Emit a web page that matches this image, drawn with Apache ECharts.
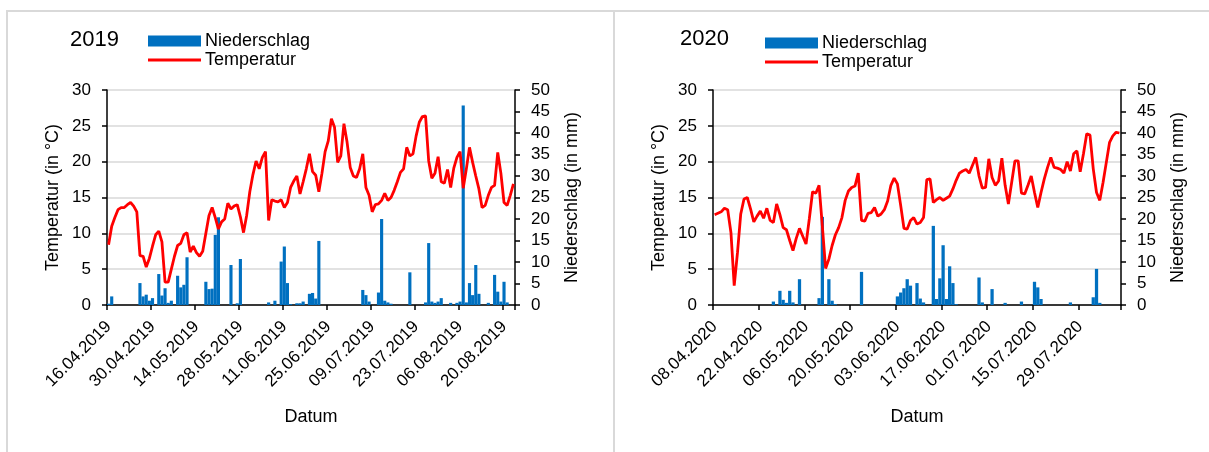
<!DOCTYPE html>
<html>
<head>
<meta charset="utf-8">
<script src="https://cdn.jsdelivr.net/npm/echarts@6/dist/echarts.min.js"></script>
<style>
html,body{margin:0;padding:0;background:#fff;overflow:hidden;width:1209px;height:452px;}
.frame{position:absolute;top:10px;height:520px;border-top:2px solid #d9d9d9;border-left:2px solid #d9d9d9;}
#f1{left:6px;width:700px;}
#f2{left:613px;width:700px;}
#chart{position:absolute;left:0;top:0;width:1209px;height:452px;}
</style>
</head>
<body>
<div class="frame" id="f1"></div>
<div class="frame" id="f2"></div>
<div id="chart"></div>
<script>
// ---- Data ----
const start2019 = [2019, 4, 16];
const days2019 = 130;
const start2020 = [2020, 4, 8];
const days2020 = 125;

const tickLabels2019 = ['16.04.2019','30.04.2019','14.05.2019','28.05.2019','11.06.2019','25.06.2019','09.07.2019','23.07.2019','06.08.2019','20.08.2019'];
const tickLabels2020 = ['08.04.2020','22.04.2020','06.05.2020','20.05.2020','03.06.2020','17.06.2020','01.07.2020','15.07.2020','29.07.2020'];

const temp2019 = [
 8.4, 11.0, 12.2, 13.3, 13.6, 13.6, 14.0, 14.3, 13.8, 13.0,
 6.9, 6.8, 5.3, 6.5, 8.2, 9.8, 10.3, 8.8, 3.2, 3.2,
 5.0, 6.8, 8.3, 8.6, 9.8, 10.1, 7.4, 8.2, 7.3, 6.8,
 7.5, 10.0, 12.5, 13.6, 12.2, 10.6, 11.6, 12.0, 14.2, 13.4,
 13.8, 14.0, 12.3, 10.1, 12.5, 15.8, 18.2, 20.1, 19.0, 20.6,
 21.4, 11.8, 14.7, 14.5, 14.4, 14.7, 13.6, 14.3, 16.4, 17.3,
 18.0, 15.5, 17.2, 19.0, 21.1, 18.6, 18.1, 15.8, 18.4, 21.4,
 22.9, 26.0, 24.8, 19.9, 20.8, 25.3, 22.7, 19.2, 18.0, 17.8,
 19.0, 21.1, 16.4, 15.3, 13.0, 14.0, 14.1, 14.6, 15.6, 14.6,
 15.0, 16.0, 17.2, 18.5, 19.0, 22.0, 20.8, 21.1, 23.6, 25.5,
 26.3, 26.4, 20.1, 17.7, 18.4, 20.7, 17.2, 17.0, 18.9, 16.4,
 19.1, 20.6, 21.4, 16.3, 19.0, 22.0, 19.9, 18.0, 16.2, 13.6,
 13.9, 15.3, 16.4, 16.7, 21.3, 18.4, 14.3, 13.9, 15.3, 16.9
];
const rain2019 = [
 0.3, 2.0, 0, 0, 0, 0, 0, 0, 0, 0,
 5.1, 2.0, 2.4, 1.0, 1.6, 0, 7.2, 2.2, 3.9, 0.5,
 1.0, 0, 6.8, 4.1, 4.7, 11.1, 0, 0, 0, 0,
 0, 5.4, 3.7, 3.8, 16.3, 20.4, 0, 0, 0, 9.3,
 0, 0.4, 10.7, 0, 0, 0, 0, 0, 0, 0,
 0, 0.6, 0, 1.0, 0, 10.1, 13.6, 5.1, 0.2, 0,
 0.4, 0.4, 0.8, 0, 2.6, 2.8, 1.5, 14.9, 0, 0,
 0, 0, 0, 0, 0, 0, 0, 0, 0, 0,
 0, 3.5, 2.3, 0.8, 0, 0, 2.9, 20.0, 1.0, 0.6,
 0.3, 0, 0, 0, 0, 0, 7.6, 0, 0, 0,
 0, 0.6, 14.4, 0.8, 0.5, 0.8, 1.6, 0, 0, 0.5,
 0, 0.5, 0.8, 46.4, 0.6, 5.1, 2.3, 9.3, 2.6, 0,
 0, 0.5, 0, 7.0, 3.1, 0.8, 5.4, 0.6, 0, 0
];
const temp2020 = [
 12.6, 12.8, 13.0, 13.5, 13.3, 10.1, 2.7, 7.3, 12.7, 14.8,
 15.0, 13.4, 11.6, 12.4, 13.1, 12.1, 13.5, 11.8, 11.5, 14.1,
 12.6, 10.8, 10.5, 9.0, 7.6, 9.3, 10.7, 9.6, 8.5, 12.0,
 15.8, 15.6, 16.7, 11.0, 5.1, 6.4, 8.3, 9.8, 10.8, 12.2,
 14.6, 15.9, 16.4, 16.6, 18.4, 11.8, 11.7, 12.8, 12.9, 13.6,
 12.4, 12.7, 13.3, 14.5, 16.7, 17.7, 16.9, 13.9, 10.7, 10.6,
 11.8, 12.2, 11.3, 11.5, 12.2, 17.5, 17.6, 14.3, 14.7, 15.0,
 14.6, 14.9, 15.2, 16.2, 17.4, 18.4, 18.7, 18.9, 18.4, 19.5,
 20.6, 18.0, 16.3, 16.4, 20.4, 17.8, 16.7, 17.3, 20.5, 16.7,
 14.1, 17.1, 20.1, 20.1, 15.6, 15.5, 16.7, 18.0, 15.7, 13.6,
 15.7, 17.6, 19.2, 20.6, 19.2, 19.1, 18.9, 18.4, 20.0, 18.7,
 21.1, 21.5, 18.6, 21.1, 23.9, 23.7, 19.0, 15.7, 14.6, 17.1,
 19.9, 22.7, 23.6, 24.1, 24.0
];
const rain2020 = [
 0, 0, 0, 0, 0, 0, 0, 0, 0, 0,
 0, 0, 0, 0, 0, 0, 0, 0, 0.8, 0,
 3.3, 1.2, 0.5, 3.3, 0.6, 0, 6.0, 0, 0, 0,
 0, 0, 1.6, 20.5, 0, 6.0, 1.0, 0.2, 0, 0,
 0, 0, 0, 0, 0, 7.7, 0, 0, 0, 0,
 0, 0, 0, 0, 0, 0, 2.0, 2.9, 3.9, 6.0,
 4.5, 0, 5.1, 1.5, 0.6, 0, 0, 18.4, 1.4, 6.2,
 13.9, 1.4, 9.0, 5.1, 0.2, 0, 0, 0, 0, 0,
 0, 6.4, 0.6, 0, 0, 3.7, 0, 0, 0, 0.5,
 0, 0, 0, 0, 0.8, 0, 0, 0, 5.4, 4.1,
 1.4, 0, 0, 0, 0, 0, 0, 0, 0, 0.6,
 0, 0, 0, 0, 0, 0, 1.8, 8.4, 0.5, 0,
 0, 0, 0, 0, 0
];

// ---- Helpers ----
function makeDates(s, n) {
  const out = [];
  const t0 = Date.UTC(s[0], s[1] - 1, s[2]);
  for (let i = 0; i < n; i++) {
    const d = new Date(t0 + i * 86400000);
    const dd = String(d.getUTCDate()).padStart(2, '0');
    const mm = String(d.getUTCMonth() + 1).padStart(2, '0');
    out.push(dd + '.' + mm + '.' + d.getUTCFullYear());
  }
  return out;
}
const dates2019 = makeDates(start2019, days2019);
const dates2020 = makeDates(start2020, days2020);

const FONT = "'Liberation Sans', Arial, sans-serif";
const BLACK = '#000';
const GRIDLINE = '#d9d9d9';
const BLUE = '#0070c0';
const RED = '#ff0000';

function xAxis(gridIndex, data, ticks) {
  const show = (i, v) => ticks.indexOf(v) >= 0;
  return {
    type: 'category', gridIndex, data, boundaryGap: true,
    axisLine: { show: true, lineStyle: { color: BLACK, width: 1.5 } },
    axisTick: { show: true, length: 5, interval: show, alignWithLabel: false, lineStyle: { color: BLACK, width: 1.5 } },
    axisLabel: { interval: show, rotate: 45, fontSize: 17, color: BLACK, fontFamily: FONT, margin: 19 },
    splitLine: { show: false },
    name: 'Datum', nameLocation: 'middle', nameGap: 103,
    nameTextStyle: { fontSize: 18, color: BLACK, fontFamily: FONT }
  };
}
function yLeft(gridIndex) {
  return {
    type: 'value', gridIndex, position: 'left', min: 0, max: 30, interval: 5,
    axisLine: { show: true, lineStyle: { color: BLACK, width: 1.5 } },
    axisTick: { show: true, length: 5, lineStyle: { color: BLACK, width: 1.5 } },
    axisLabel: { fontSize: 17, color: BLACK, fontFamily: FONT, margin: 16 },
    splitLine: { show: true, lineStyle: { color: GRIDLINE, width: 1.5 } },
    name: 'Temperatur (in °C)', nameLocation: 'middle', nameGap: 45, nameRotate: 90,
    nameTextStyle: { fontSize: 18, color: BLACK, fontFamily: FONT }
  };
}
function yRight(gridIndex) {
  return {
    type: 'value', gridIndex, position: 'right', min: 0, max: 50, interval: 5,
    axisLine: { show: true, lineStyle: { color: BLACK, width: 1.5 } },
    axisTick: { show: true, length: 5, lineStyle: { color: BLACK, width: 1.5 } },
    axisLabel: { fontSize: 17, color: BLACK, fontFamily: FONT, margin: 16 },
    splitLine: { show: false },
    name: 'Niederschlag (in mm)', nameLocation: 'middle', nameGap: 48, nameRotate: 90,
    nameTextStyle: { fontSize: 18, color: BLACK, fontFamily: FONT }
  };
}
function legend(left, top) {
  return {
    left, top, orient: 'vertical', padding: 0, itemGap: 1,
    itemWidth: 53, itemHeight: 11, itemStyle: { borderWidth: 0 },
    textStyle: { fontSize: 18, color: BLACK, fontFamily: FONT, padding: [0, 0, 0, -1] },
    data: [
      { name: 'Niederschlag', icon: 'rect' },
      { name: 'Temperatur', icon: 'path://M0,0 L53,0 L53,3 L0,3 Z' }
    ],
    selectedMode: false
  };
}

const chart = echarts.init(document.getElementById('chart'), null, { renderer: 'canvas' });
chart.setOption({
  animation: false,
  backgroundColor: 'transparent',
  textStyle: { fontFamily: FONT },
  title: [
    { text: '2019', left: 70, top: 29, padding: 0, textStyle: { fontSize: 22, fontWeight: 'normal', color: BLACK, fontFamily: FONT } },
    { text: '2020', left: 680, top: 28, padding: 0, textStyle: { fontSize: 22, fontWeight: 'normal', color: BLACK, fontFamily: FONT } }
  ],
  legend: [legend(148, 32), legend(765, 34)],
  grid: [
    { left: 107, top: 90, width: 408, height: 215 },
    { left: 713, top: 90, width: 408, height: 215 }
  ],
  xAxis: [xAxis(0, dates2019, tickLabels2019), xAxis(1, dates2020, tickLabels2020)],
  yAxis: [yLeft(0), yRight(0), yLeft(1), yRight(1)],
  series: [
    { name: 'Niederschlag', type: 'bar', xAxisIndex: 0, yAxisIndex: 1, data: rain2019,
      itemStyle: { color: BLUE }, barCategoryGap: '0%' },
    { name: 'Temperatur', type: 'line', xAxisIndex: 0, yAxisIndex: 0, data: temp2019,
      symbol: 'none', showSymbol: false, lineStyle: { color: RED, width: 2.8 }, itemStyle: { color: RED }, z: 3 },
    { name: 'Niederschlag', type: 'bar', xAxisIndex: 1, yAxisIndex: 3, data: rain2020,
      itemStyle: { color: BLUE }, barCategoryGap: '0%' },
    { name: 'Temperatur', type: 'line', xAxisIndex: 1, yAxisIndex: 2, data: temp2020,
      symbol: 'none', showSymbol: false, lineStyle: { color: RED, width: 2.8 }, itemStyle: { color: RED }, z: 3 }
  ]
});
</script>
</body>
</html>
